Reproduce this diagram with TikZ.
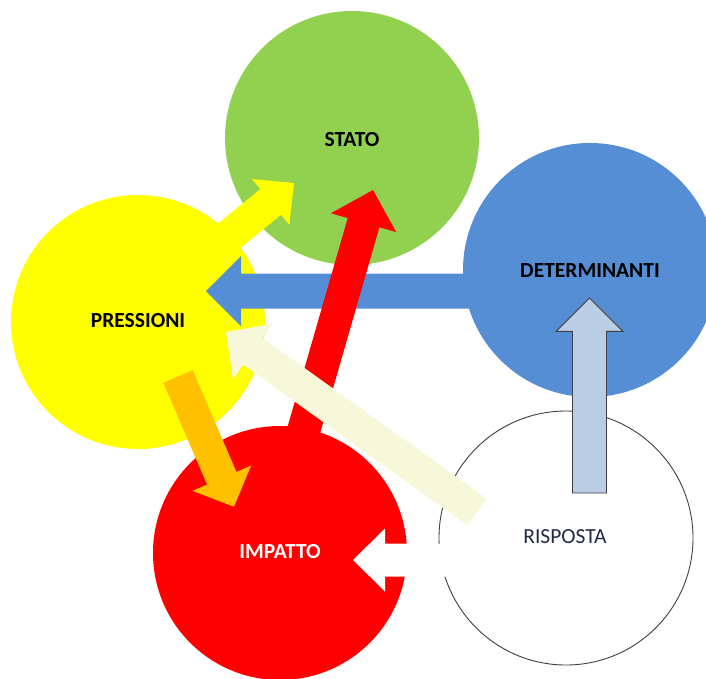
\documentclass[tikz,border=0pt]{standalone}
\usepackage{fontspec}
\setmainfont{Carlito}
\usetikzlibrary{calc}
\definecolor{cgreen}{HTML}{92D050}
\definecolor{cblue}{HTML}{558ED5}
\definecolor{cyellow}{HTML}{FFFF00}
\definecolor{cred}{HTML}{FF0000}
\definecolor{corange}{HTML}{FFC000}
\definecolor{ccream}{HTML}{F7F7DA}
\definecolor{clightblue}{HTML}{B9CDE5}
\definecolor{coutline}{HTML}{404040}
\definecolor{ctext}{HTML}{1F2A44}
\newcommand\blockarr[6]{%
  \coordinate (ba-n) at ($(#3)!#6!(#2)$);
  \fill[#1] ($(#2)!#4!90:(#3)$) -- ($(ba-n)!#4!-90:(#2)$) -- ($(ba-n)!#5!-90:(#2)$) -- (#3)
    -- ($(ba-n)!#5!90:(#2)$) -- ($(ba-n)!#4!90:(#2)$) -- ($(#2)!#4!-90:(#3)$) -- cycle;}
\tikzset{
  bubble/.style={circle, minimum size=254pt, inner sep=0pt},
  lbl/.style={font=\fontsize{21.5}{24}\selectfont\bfseries},
}
\begin{document}
\begin{tikzpicture}[x=1pt,y=-1pt]
\clip (0,0) rectangle (706,678);
\fill[white] (0,0) rectangle (706,678);
% circles
\node[bubble, fill=cgreen] (stato) at (352,138) {};
\node[bubble, fill=cblue] (det) at (590,270) {};
\node[bubble, fill=cyellow] (press) at (138,322) {};
\node[bubble, fill=cred] (imp) at (280,553) {};
\node[bubble, draw=coutline, line width=0.9pt, fill=white] (risp) at (566,538) {};
% connector end points
\coordinate (y0) at (192,266); \coordinate (y1) at (294,183);
\coordinate (b0) at (560,291); \coordinate (b1) at (206,291);
\coordinate (r0) at (290,478); \coordinate (r1) at (373,190);
\coordinate (c0) at (477,512); \coordinate (c1) at (226,332);
\coordinate (o0) at (178,376.5); \coordinate (o1) at (234,506.7);
\coordinate (l0) at (589.5,493); \coordinate (l1) at (589.5,298);
\coordinate (w0) at (470,560); \coordinate (w1) at (353,560);
% arrows
\blockarr{cyellow}{y0}{y1}{16.5pt}{29.5pt}{30pt}
\blockarr{cblue}{b0}{b1}{17.5pt}{35pt}{35pt}
\blockarr{cred}{r0}{r1}{16.5pt}{34pt}{34pt}
\blockarr{ccream}{c0}{c1}{16.5pt}{34pt}{33pt}
\blockarr{corange}{o0}{o1}{16pt}{32pt}{31pt}
\blockarr{fill=clightblue, draw=coutline, line width=0.9pt}{l0}{l1}{17pt}{33.3pt}{33.3pt}
\blockarr{white}{w0}{w1}{16.5pt}{31.5pt}{32pt}
% labels
\node[lbl] at ([yshift=-2pt]stato.center) {STATO};
\node[lbl] at ([yshift=-1pt]det.center) {DETERMINANTI};
\node[lbl] at ([yshift=1pt]press.center) {PRESSIONI};
\node[lbl, text=white] at ([yshift=1pt]imp.center) {IMPATTO};
\node[font=\fontsize{21.5}{24}\selectfont, text=ctext] at ([xshift=-1pt,yshift=1pt]risp.center) {RISPOSTA};
\end{tikzpicture}
\end{document}
